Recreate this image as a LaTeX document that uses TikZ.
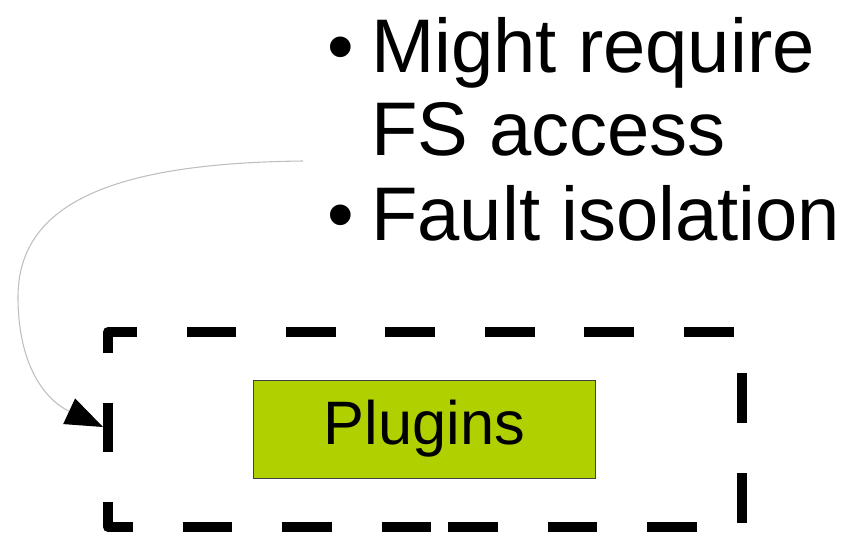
\documentclass[tikz,border=0pt]{standalone}
\usepackage{fontspec}
\setmainfont{Liberation Sans}
\usetikzlibrary{arrows.meta}
\definecolor{plugingreen}{RGB}{176,208,0}
\definecolor{linkgrey}{RGB}{190,190,190}

\tikzset{
	bigtext/.style={inner sep=0pt, font=\fontsize{57pt}{63pt}\selectfont},
	dashbox/.style={line width=7.5pt, line join=round, dash pattern=on 37.3pt off 37.3pt, dash phase=66.3pt},
	plugbox/.style={draw=black!75, line width=0.75pt, fill=plugingreen, minimum width=257pt, minimum height=73.5pt, inner sep=0pt, font=\fontsize{46pt}{50pt}\selectfont},
	link/.style={draw=linkgrey, line width=0.8pt, -{Triangle[length=28pt, width=21pt, color=black]}}
}

\begin{document}
\begin{tikzpicture}[x=0.75pt, y=-0.75pt]
				\useasboundingbox (0,0) rectangle (861,543);
				
				% bullet list
				\node[bigtext, anchor=base] (bulletA) at (341,72) {•};
				\node[bigtext, anchor=base west] (requireA) at (371,72) {Might require};
				\node[bigtext, anchor=base west] (requireB) at (371,155) {FS access};
				\node[bigtext, anchor=base] (bulletB) at (341,240) {•};
				\node[bigtext, anchor=base west] (fault) at (371,240) {Fault isolation};
				
				% sandbox frame
				\coordinate (frameS) at (437,527);
				\coordinate (frameSE) at (742,527);
				\coordinate (frameNE) at (742,332);
				\coordinate (frameNW) at (108,332);
				\coordinate (frameSW) at (108,527);
				\coordinate (frameW) at (103,427);
				\draw[dashbox] (frameS) -- (frameSE) -- (frameNE) -- (frameNW) -- (frameSW) -- (frameS);
				
				\node[plugbox] (plugins) at (424.5,429) {Plugins};
				
				% arrow from the list to the frame
				\coordinate (linkstart) at (303,161);
				\draw[link] (linkstart) .. controls (120,163) and (18,200) .. (18,297) .. controls (18,365) and (45,400) .. (frameW);
\end{tikzpicture}
\end{document}
